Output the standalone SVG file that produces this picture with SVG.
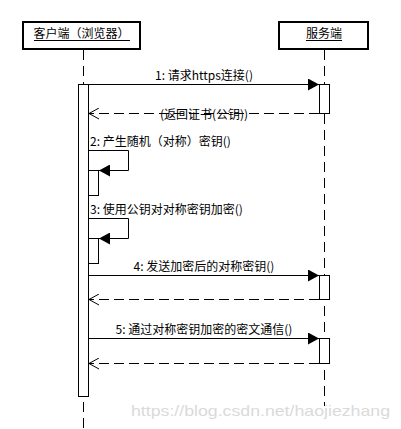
<svg xmlns="http://www.w3.org/2000/svg" width="401" height="429" viewBox="0 0 401 429">
<style>
  .box { fill: #fff; stroke: #000; stroke-width: 2; }
  .act { fill: #fff; stroke: #000; stroke-width: 1; }
  .life { stroke: #000; stroke-width: 1; stroke-dasharray: 10 6; fill: none; }
  .msg { stroke: #000; stroke-width: 1; fill: none; }
  .ret { stroke: #000; stroke-width: 1; fill: none; stroke-dasharray: 10 5; }
  .lbl { font-family: "Noto Sans CJK SC", "Liberation Sans", sans-serif; font-size: 12px; fill: #000; }
  .wm { font-family: "Liberation Sans", sans-serif; font-size: 15px; fill: #dadada; }
</style>
<defs>
  <marker id="fill" markerWidth="12" markerHeight="12" refX="11" refY="6" orient="auto" markerUnits="userSpaceOnUse">
    <path d="M0,0 L11,6 L0,12 Z" fill="#000"/>
  </marker>
  <marker id="open" markerWidth="12" markerHeight="12" refX="11" refY="6" orient="auto" markerUnits="userSpaceOnUse">
    <path d="M1,0.5 L11,6 L1,11.5" fill="none" stroke="#000" stroke-width="1"/>
  </marker>
</defs>
<rect width="401" height="429" fill="#fff"/>

<g id="client">
  <line class="life" x1="83.5" y1="50" x2="83.5" y2="429"/>
  <rect class="box" x="23" y="22" width="117" height="27"/>
  <text class="lbl" x="81.5" y="38" text-anchor="middle">客户端（浏览器）</text>
  <line x1="34" y1="40.5" x2="130" y2="40.5" stroke="#000" stroke-width="1"/>
  <rect class="act" x="78.5" y="84.5" width="10" height="312"/>
</g>

<g id="server">
  <line class="life" x1="324.5" y1="50" x2="324.5" y2="406"/>
  <rect class="box" x="279" y="22" width="89" height="27"/>
  <text class="lbl" x="324" y="38" text-anchor="middle">服务端</text>
  <line x1="306" y1="40.5" x2="342" y2="40.5" stroke="#000" stroke-width="1"/>
  <rect class="act" x="319.5" y="84.5" width="10" height="29"/>
  <rect class="act" x="319.5" y="275.5" width="10" height="24"/>
  <rect class="act" x="319.5" y="338.5" width="10" height="25"/>
</g>

<g id="self-activations">
  <rect class="act" x="88.5" y="170.5" width="10" height="25"/>
  <rect class="act" x="88.5" y="238.5" width="10" height="25"/>
</g>

<g id="connectors">
  <text class="lbl" x="204" y="80" text-anchor="middle">1: 请求https连接()</text>
  <line class="msg" x1="89" y1="84.5" x2="319" y2="84.5" marker-end="url(#fill)"/>

  <text class="lbl" x="204" y="119" text-anchor="middle">(返回证书(公钥))</text>
  <line class="ret" x1="319" y1="113.5" x2="89" y2="113.5" marker-end="url(#open)"/>

  <text class="lbl" x="90" y="146">2: 产生随机（对称）密钥()</text>
  <path class="msg" d="M89,150.5 H128.5 V170.5 H99" marker-end="url(#fill)"/>

  <text class="lbl" x="90" y="214">3: 使用公钥对对称密钥加密()</text>
  <path class="msg" d="M89,218.5 H128.5 V238.5 H99" marker-end="url(#fill)"/>

  <text class="lbl" x="204" y="271" text-anchor="middle">4: 发送加密后的对称密钥()</text>
  <line class="msg" x1="89" y1="275.5" x2="319" y2="275.5" marker-end="url(#fill)"/>
  <line class="ret" x1="319" y1="299.5" x2="89" y2="299.5" marker-end="url(#open)"/>

  <text class="lbl" x="204" y="334" text-anchor="middle">5: 通过对称密钥加密的密文通信()</text>
  <line class="msg" x1="89" y1="338.5" x2="319" y2="338.5" marker-end="url(#fill)"/>
  <line class="ret" x1="319" y1="363.5" x2="89" y2="363.5" marker-end="url(#open)"/>
</g>

<text class="wm" x="131" y="416" textLength="259" lengthAdjust="spacingAndGlyphs">https://blog.csdn.net/haojiezhang</text>
</svg>
